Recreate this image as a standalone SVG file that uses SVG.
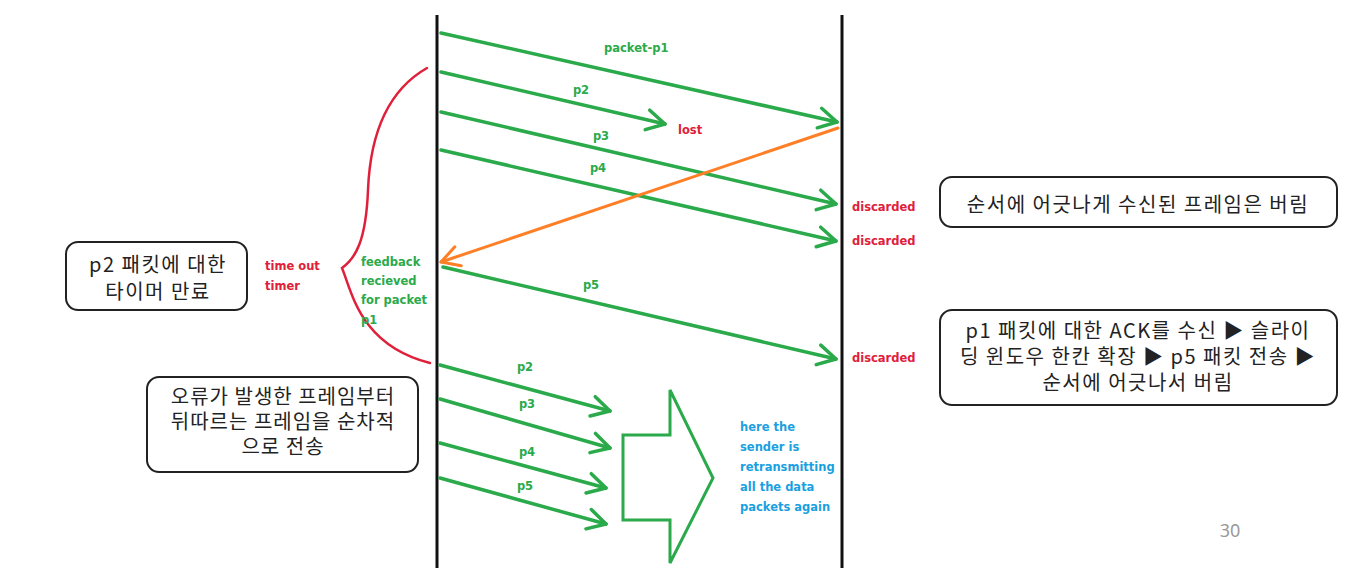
<svg xmlns="http://www.w3.org/2000/svg" width="1365" height="579" viewBox="0 0 1365 579">
<style>
.lane{stroke:#111;stroke-width:3;fill:none}
.g{stroke:#2aaa4a;stroke-width:3.5;fill:none;stroke-linecap:round}
.o{stroke:#ff7f27;stroke-width:3;fill:none;stroke-linecap:round}
.lbl{font-family:"DejaVu Sans",sans-serif;font-weight:bold;font-size:11.5px}
.gt{fill:#2aaa4a}
.rt{fill:#e0203a}
.bt{fill:#1a9fe0}
.box{fill:#fff;stroke:#222;stroke-width:2}
.kt{font-family:"Noto Sans CJK KR","Noto Sans",sans-serif;font-size:20px;fill:#222;text-anchor:middle;letter-spacing:1.5px}
.k2{letter-spacing:1px}
</style>
<defs>
<marker id="ga" markerUnits="userSpaceOnUse" markerWidth="30" markerHeight="30" viewBox="-22 -15 30 30" refX="0" refY="0" orient="auto">
<path d="M-18,-10 L0,0 L-18,10" fill="none" stroke="#2aaa4a" stroke-width="3.5" stroke-linecap="round" stroke-linejoin="round"/>
</marker>
<marker id="oa" markerUnits="userSpaceOnUse" markerWidth="30" markerHeight="30" viewBox="-22 -15 30 30" refX="0" refY="0" orient="auto">
<path d="M-18,-10 L0,0 L-18,10" fill="none" stroke="#ff7f27" stroke-width="3" stroke-linecap="round" stroke-linejoin="round"/>
</marker>
</defs>
<rect width="1365" height="579" fill="#fff"/>
<g id="lanes">
<line class="lane" x1="437" y1="15" x2="437" y2="568"/>
<line class="lane" x1="842" y1="15" x2="842" y2="568"/>
</g>
<g id="connectors">
<line class="g" x1="441" y1="33" x2="837" y2="122" marker-end="url(#ga)"/>
<line class="g" x1="441" y1="72" x2="665" y2="124" marker-end="url(#ga)"/>
<line class="g" x1="441" y1="112" x2="836" y2="204" marker-end="url(#ga)"/>
<line class="g" x1="441" y1="150" x2="836" y2="241" marker-end="url(#ga)"/>
<line class="o" x1="838" y1="128" x2="441" y2="262" marker-end="url(#oa)"/>
<line class="g" x1="443" y1="267" x2="836" y2="359" marker-end="url(#ga)"/>
<line class="g" x1="440" y1="365" x2="610" y2="411" marker-end="url(#ga)"/>
<line class="g" x1="440" y1="399" x2="610" y2="448" marker-end="url(#ga)"/>
<line class="g" x1="440" y1="443" x2="606" y2="488" marker-end="url(#ga)"/>
<line class="g" x1="440" y1="478" x2="606" y2="524" marker-end="url(#ga)"/>
<path d="M427,68 C385,92 370,140 368,190 C366,240 356,258 342,268 C352,292 360,345 430,363" fill="none" stroke="#e0203a" stroke-width="2.5" stroke-linecap="round"/>
<path d="M623,435 L670,435 L670,390 L713,478 L670,563 L670,520 L623,520 Z" fill="none" stroke="#2aaa4a" stroke-width="3" stroke-linejoin="miter"/>
</g>
<g id="labels">
<text class="lbl gt" x="604" y="52">packet-p1</text>
<text class="lbl gt" x="581" y="94" text-anchor="middle">p2</text>
<text class="lbl rt" x="678" y="134">lost</text>
<text class="lbl gt" x="601" y="140" text-anchor="middle">p3</text>
<text class="lbl gt" x="598" y="172" text-anchor="middle">p4</text>
<text class="lbl gt" x="591" y="289" text-anchor="middle">p5</text>
<text class="lbl rt" x="852" y="211">discarded</text>
<text class="lbl rt" x="852" y="245">discarded</text>
<text class="lbl rt" x="852" y="362">discarded</text>
<text class="lbl gt" x="525" y="371" text-anchor="middle">p2</text>
<text class="lbl gt" x="527" y="408" text-anchor="middle">p3</text>
<text class="lbl gt" x="527" y="456" text-anchor="middle">p4</text>
<text class="lbl gt" x="525" y="490" text-anchor="middle">p5</text>
<text class="lbl rt" x="265" y="270">time out</text>
<text class="lbl rt" x="265" y="290">timer</text>
<text class="lbl gt" x="361" y="266">feedback</text>
<text class="lbl gt" x="361" y="285">recieved</text>
<text class="lbl gt" x="361" y="304">for packet</text>
<text class="lbl gt" x="361" y="324">p1</text>
<text class="lbl bt" x="740" y="431">here the</text>
<text class="lbl bt" x="740" y="451">sender is</text>
<text class="lbl bt" x="740" y="471">retransmitting</text>
<text class="lbl bt" x="740" y="491">all the data</text>
<text class="lbl bt" x="740" y="511">packets again</text>
</g>
<g id="box-timer">
<rect class="box" x="66" y="242" width="181" height="68" rx="12"/>
<text class="kt" x="158" y="272">p2 패킷에 대한</text>
<text class="kt" x="158" y="299">타이머 만료</text>
</g>
<g id="box-resend">
<rect class="box" x="147" y="377" width="271" height="95" rx="12"/>
<text class="kt k2" x="283" y="404">오류가 발생한 프레임부터</text>
<text class="kt k2" x="283" y="429">뒤따르는 프레임을 순차적</text>
<text class="kt k2" x="283" y="454">으로 전송</text>
</g>
<g id="box-discard">
<rect class="box" x="940" y="177" width="397" height="50" rx="12"/>
<text class="kt" x="1138" y="212">순서에 어긋나게 수신된 프레임은 버림</text>
</g>
<g id="box-ack">
<rect class="box" x="940" y="310" width="397" height="95" rx="12"/>
<text class="kt" x="1138" y="338">p1 패킷에 대한 ACK를 수신 ▶ 슬라이</text>
<text class="kt" x="1138" y="364">딩 윈도우 한칸 확장 ▶ p5 패킷 전송 ▶</text>
<text class="kt" x="1138" y="390">순서에 어긋나서 버림</text>
</g>
<text x="1230" y="537" font-family="Noto Sans, sans-serif" font-size="18" fill="#999" text-anchor="middle">30</text>
</svg>
